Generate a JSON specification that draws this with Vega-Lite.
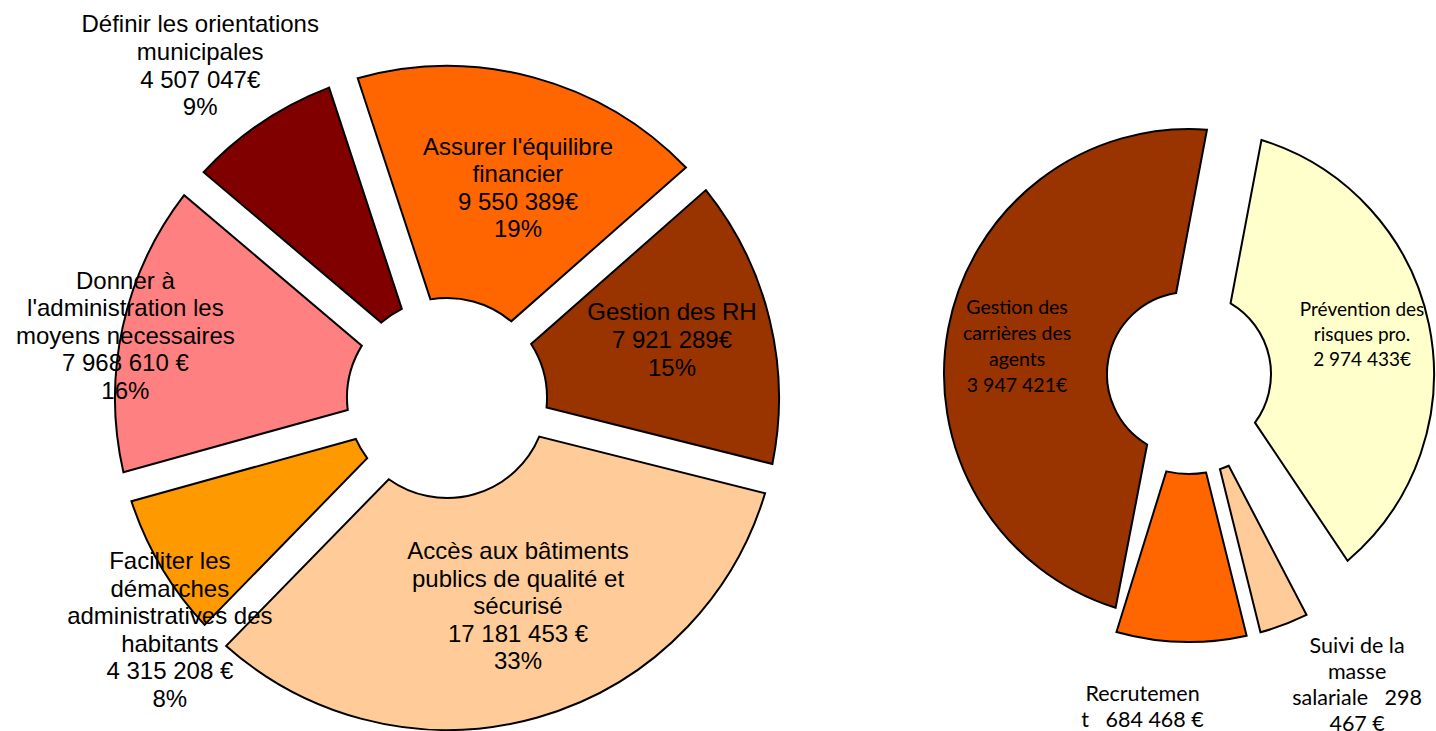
{
  "$schema": "https://vega.github.io/schema/vega-lite/v6.json",
  "padding": 0,
  "spacing": 0,
  "bounds": "flush",
  "background": "white",
  "config": {"view": {"stroke": null}},
  "resolve": {"scale": {"color": "independent", "theta": "independent"}},
  "hconcat": [
    {
      "width": 894,
      "height": 796,
      "data": {"values": [
        {"ordre": 1, "poste": "Assurer l'équilibre financier", "montant": 9550389, "label": "Assurer l'équilibre\nfinancier\n9 550 389€\n19%"},
        {"ordre": 2, "poste": "Gestion des RH", "montant": 7921289, "label": "Gestion des RH\n7 921 289€\n15%"},
        {"ordre": 3, "poste": "Accès aux bâtiments publics de qualité et sécurisé", "montant": 17181453, "label": "Accès aux bâtiments\npublics de qualité et\nsécurisé\n17 181 453 €\n33%"},
        {"ordre": 4, "poste": "Faciliter les démarches administratives des habitants", "montant": 4315208, "label": "Faciliter les\ndémarches\nadministratives des\nhabitants\n4 315 208 €\n8%"},
        {"ordre": 5, "poste": "Donner à l'administration les moyens necessaires", "montant": 7968610, "label": "Donner à\nl'administration les\nmoyens necessaires\n7 968 610 €\n16%"},
        {"ordre": 6, "poste": "Définir les orientations municipales", "montant": 4507047, "label": "Définir les orientations\nmunicipales\n4 507 047€\n9%"}
      ]},
      "encoding": {
        "theta": {"field": "montant", "type": "quantitative", "stack": true, "scale": {"range": [-0.3177, 5.9655]}},
        "order": {"field": "ordre", "type": "quantitative"}
      },
      "layer": [
        {
          "mark": {"type": "arc", "innerRadius": 100, "outerRadius": 332, "padAngle": 0.087, "stroke": "black", "strokeWidth": 2},
          "encoding": {
            "color": {"field": "poste", "type": "nominal", "legend": null,
              "scale": {"domain": ["Assurer l'équilibre financier", "Gestion des RH", "Accès aux bâtiments publics de qualité et sécurisé", "Faciliter les démarches administratives des habitants", "Donner à l'administration les moyens necessaires", "Définir les orientations municipales"],
                        "range": ["#FF6600", "#993300", "#FFCC99", "#FF9900", "#FF8080", "#800000"]}}
          }
        },
        {
          "mark": {"type": "text", "radius": 260, "thetaOffset": 0.011, "font": "Liberation Sans", "fontSize": 24, "lineHeight": 27.5, "lineBreak": "\n", "align": "center", "baseline": "middle", "color": "black"},
          "encoding": {"text": {"condition": {"test": "datum.ordre == 1", "field": "label", "type": "nominal"}, "value": ""}}
        },
        {
          "mark": {"type": "text", "radius": 240.5, "thetaOffset": -0.123, "font": "Liberation Sans", "fontSize": 24, "lineHeight": 28, "lineBreak": "\n", "align": "center", "baseline": "middle", "color": "black"},
          "encoding": {"text": {"condition": {"test": "datum.ordre == 2", "field": "label", "type": "nominal"}, "value": ""}}
        },
        {
          "mark": {"type": "text", "radius": 169.6, "thetaOffset": -0.156, "font": "Liberation Sans", "fontSize": 24, "lineHeight": 27.5, "lineBreak": "\n", "align": "center", "baseline": "middle", "color": "black"},
          "encoding": {"text": {"condition": {"test": "datum.ordre == 3", "field": "label", "type": "nominal"}, "value": ""}}
        },
        {
          "mark": {"type": "text", "radius": 322, "thetaOffset": 0, "font": "Liberation Sans", "fontSize": 24, "lineHeight": 27.6, "lineBreak": "\n", "align": "center", "baseline": "middle", "color": "black"},
          "encoding": {"text": {"condition": {"test": "datum.ordre == 4", "field": "label", "type": "nominal"}, "value": ""}}
        },
        {
          "mark": {"type": "text", "radius": 342, "thetaOffset": 0.131, "font": "Liberation Sans", "fontSize": 24, "lineHeight": 27.5, "lineBreak": "\n", "align": "center", "baseline": "middle", "color": "black"},
          "encoding": {"text": {"condition": {"test": "datum.ordre == 5", "field": "label", "type": "nominal"}, "value": ""}}
        },
        {
          "transform": [
            {"stack": "montant", "groupby": [], "sort": [{"field": "ordre", "order": "ascending"}], "as": ["debut", "fin"]},
            {"filter": "datum.ordre == 6"}
          ],
          "mark": {"type": "text", "radius": 447, "thetaOffset": 0.2833, "font": "Liberation Sans", "fontSize": 24, "lineHeight": 27.7, "lineBreak": "\n", "align": "center", "baseline": "middle", "color": "black"},
          "encoding": {
            "theta": {"field": "debut", "type": "quantitative", "stack": null},
            "text": {"field": "label", "type": "nominal"}
          }
        }
      ]
    },
    {
      "width": 590,
      "height": 748,
      "data": {"values": [
        {"ordre": 1, "poste": "Prévention des risques pro.", "montant": 2974433, "label": "Prévention des\nrisques pro.\n2 974 433€"},
        {"ordre": 2, "poste": "Suivi de la masse salariale", "montant": 298467, "label": "Suivi de la\nmasse\nsalariale\u00a0\u00a0\u00a0298\n467 €"},
        {"ordre": 3, "poste": "Recrutement", "montant": 684468, "label": "Recrutemen\nt\u00a0\u00a0\u00a0684 468 €"},
        {"ordre": 4, "poste": "Gestion des carrières des agents", "montant": 3947421, "label": "Gestion des\ncarrières des\nagents\n3 947 421€"}
      ]},
      "encoding": {
        "theta": {"field": "montant", "type": "quantitative", "stack": true, "scale": {"range": [0.1868, 6.47]}},
        "order": {"field": "ordre", "type": "quantitative"},
        "color": {"field": "poste", "type": "nominal", "legend": null,
          "scale": {"domain": ["Prévention des risques pro.", "Suivi de la masse salariale", "Recrutement", "Gestion des carrières des agents"],
                    "range": ["#FFFFCC", "#FFCC99", "#FF6600", "#993300"]}}
      },
      "layer": [
        {
          "mark": {"type": "arc", "innerRadius": 82, "outerRadius": 245, "padAngle": 0.215, "stroke": "black", "strokeWidth": 2},
          "encoding": {"opacity": {"condition": {"test": "datum.ordre == 1 || datum.ordre == 4", "value": 1}, "value": 0}}
        },
        {
          "mark": {"type": "arc", "innerRadius": 100, "outerRadius": 268, "padAngle": 0.05, "thetaOffset": 0.11, "theta2Offset": 0.11, "stroke": "black", "strokeWidth": 2},
          "encoding": {"opacity": {"condition": {"test": "datum.ordre == 2 || datum.ordre == 3", "value": 1}, "value": 0}}
        },
        {
          "mark": {"type": "text", "radius": 184.5, "thetaOffset": -0.152, "font": "Lato", "fontSize": 19, "lineHeight": 25, "lineBreak": "\n", "align": "center", "baseline": "middle"},
          "encoding": {"color": {"value": "black"}, "text": {"condition": {"test": "datum.ordre == 1", "field": "label", "type": "nominal"}, "value": ""}}
        },
        {
          "mark": {"type": "text", "radius": 184.2, "thetaOffset": 0.178, "font": "Lato", "fontSize": 19.5, "lineHeight": 26, "lineBreak": "\n", "align": "center", "baseline": "middle"},
          "encoding": {"color": {"value": "black"}, "text": {"condition": {"test": "datum.ordre == 4", "field": "label", "type": "nominal"}, "value": ""}}
        },
        {
          "mark": {"type": "text", "radius": 320.6, "thetaOffset": -0.08, "font": "Lato", "fontSize": 21.5, "lineHeight": 26, "lineBreak": "\n", "align": "center", "baseline": "middle"},
          "encoding": {"color": {"value": "black"}, "text": {"condition": {"test": "datum.ordre == 2", "field": "label", "type": "nominal"}, "value": ""}}
        },
        {
          "mark": {"type": "text", "radius": 324.4, "thetaOffset": 0.225, "font": "Lato", "fontSize": 21.5, "lineHeight": 26, "lineBreak": "\n", "align": "center", "baseline": "middle"},
          "encoding": {"color": {"value": "black"}, "text": {"condition": {"test": "datum.ordre == 3", "field": "label", "type": "nominal"}, "value": ""}}
        }
      ]
    }
  ]
}
